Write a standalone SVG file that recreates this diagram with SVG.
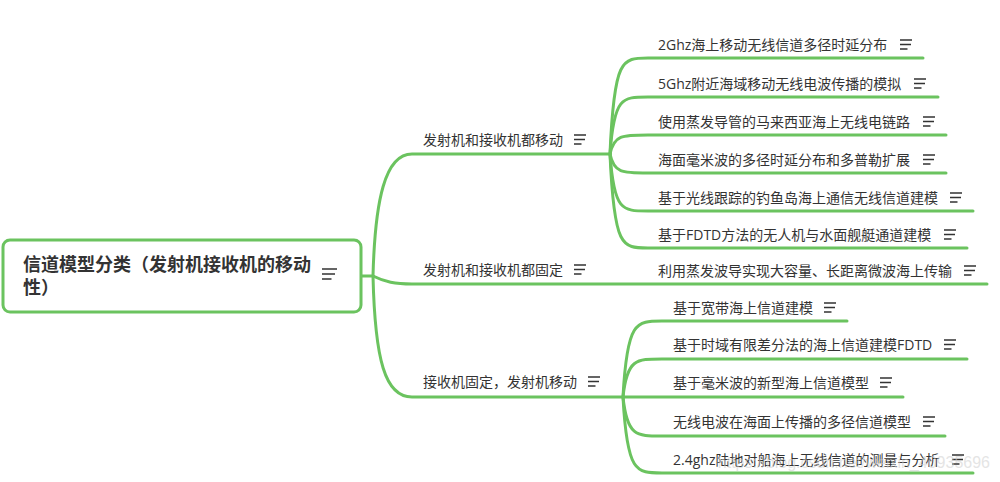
<svg xmlns="http://www.w3.org/2000/svg" width="1000" height="482" viewBox="0 0 1000 482">
<style>
.c{fill:none;stroke:#6bc35f;stroke-width:3;stroke-linecap:round}
.t{font-family:"Open Sans","Noto Sans CJK SC",sans-serif;font-size:14px;fill:#333}
.r{font-family:"Open Sans","Noto Sans CJK SC",sans-serif;font-size:18px;font-weight:bold;fill:#333}
.ic{fill:none;stroke:#333;stroke-width:1.3}
.wm{font-family:"Liberation Sans",Arial,sans-serif;font-size:16px;fill:#cfcfcf;opacity:0.55}
</style>
<defs>
<g id="icon"><path class="ic" d="M0,-10H12M0,-5.5H11M0,-1H7.5"/></g>
<g id="iconL"><path class="ic" d="M0,-11H15M0,-6H13M0,-1H9.5"/></g>
</defs>
<rect width="1000" height="482" fill="#fff"/>
<g id="connectors">
<path class="c" d="M361,276H373"/>
<path class="c" d="M373,276C375,200 385,154 412,154H610"/>
<path class="c" d="M373,276C385,282 395,284 412,284H987"/>
<path class="c" d="M373,276C375,360 385,397 412,397H623"/>
<path class="c" d="M610,154C614,58 622,58 648,58H923"/>
<path class="c" d="M610,154C614,97 622,97 648,97H938"/>
<path class="c" d="M610,154C614,135 622,135 648,135H946"/>
<path class="c" d="M610,154C614,173 622,173 648,173H946"/>
<path class="c" d="M610,154C614,211 622,211 648,211H973"/>
<path class="c" d="M610,154C614,248 622,248 648,248H967"/>
<path class="c" d="M623,397C627,321 636,321 662,321H847"/>
<path class="c" d="M623,397C627,359 636,359 662,359H967"/>
<path class="c" d="M623,397H903"/>
<path class="c" d="M623,397C627,436 636,436 662,436H945"/>
<path class="c" d="M623,397C627,473 636,473 662,473H973"/>
</g>
<g id="root">
<rect x="3" y="240" width="358" height="72" rx="7" fill="#fff" stroke="#6bc35f" stroke-width="3"/>
<text class="r" x="23" y="271">信道模型分类（发射机接收机的移动</text>
<text class="r" x="23" y="294">性）</text>
<use href="#iconL" x="322" y="280"/>
</g>
<g id="b1"><text class="t" x="423" y="145">发射机和接收机都移动</text><use href="#icon" x="574" y="145"/></g>
<g id="b2"><text class="t" x="423" y="275">发射机和接收机都固定</text><use href="#icon" x="574" y="275"/></g>
<g id="b3"><text class="t" x="423" y="387">接收机固定，发射机移动</text><use href="#icon" x="588" y="387"/></g>
<g id="l1"><text class="t" x="658" y="50">2Ghz海上移动无线信道多径时延分布</text><use href="#icon" x="900" y="50"/></g>
<g id="l2"><text class="t" x="658" y="89">5Ghz附近海域移动无线电波传播的模拟</text><use href="#icon" x="914" y="89"/></g>
<g id="l3"><text class="t" x="658" y="127">使用蒸发导管的马来西亚海上无线电链路</text><use href="#icon" x="923" y="127"/></g>
<g id="l4"><text class="t" x="658" y="165">海面毫米波的多径时延分布和多普勒扩展</text><use href="#icon" x="923" y="165"/></g>
<g id="l5"><text class="t" x="658" y="203">基于光线跟踪的钓鱼岛海上通信无线信道建模</text><use href="#icon" x="950" y="203"/></g>
<g id="l6"><text class="t" x="658" y="240">基于FDTD方法的无人机与水面舰艇通道建模</text><use href="#icon" x="944" y="240"/></g>
<g id="l7"><text class="t" x="658" y="276">利用蒸发波导实现大容量、长距离微波海上传输</text><use href="#icon" x="964" y="276"/></g>
<g id="l8"><text class="t" x="673" y="313">基于宽带海上信道建模</text><use href="#icon" x="824" y="313"/></g>
<g id="l9"><text class="t" x="673" y="350">基于时域有限差分法的海上信道建模FDTD</text><use href="#icon" x="944" y="350"/></g>
<g id="l10"><text class="t" x="673" y="388">基于毫米波的新型海上信道模型</text><use href="#icon" x="880" y="388"/></g>
<g id="l11"><text class="t" x="673" y="427">无线电波在海面上传播的多径信道模型</text><use href="#icon" x="923" y="427"/></g>
<g id="l12"><text class="t" x="673" y="465">2.4ghz陆地对船海上无线信道的测量与分析</text><use href="#icon" x="952" y="465"/></g>
<text class="wm" x="990" y="468" text-anchor="end">https://blog.csdn.net/weixin_40935696</text>
</svg>
